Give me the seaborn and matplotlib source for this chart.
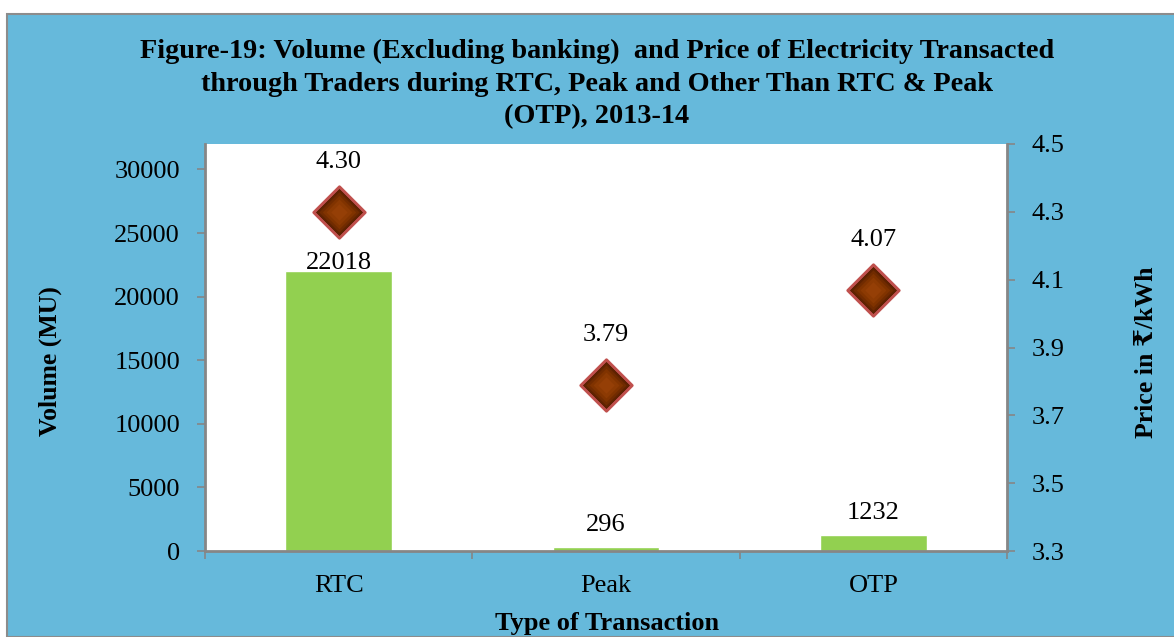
import numpy as np
import pandas as pd
import seaborn as sns
import matplotlib.pyplot as plt
from matplotlib.patches import Rectangle

# data
categories = ['RTC', 'Peak', 'OTP']
volume_mu = [22018, 296, 1232]
price_rs_kwh = [4.30, 3.79, 4.07]

title = ('Figure-19: Volume (Excluding banking)  and Price of Electricity Transacted\n'
         'through Traders during RTC, Peak and Other Than RTC & Peak\n'
         '(OTP), 2013-14')

sns.set_style('white')
plt.rcParams['font.family'] = ['Liberation Serif', 'DejaVu Serif', 'DejaVu Sans']
plt.rcParams['text.color'] = 'black'
plt.rcParams['axes.labelcolor'] = 'black'
plt.rcParams['xtick.labelcolor'] = 'black'
plt.rcParams['ytick.labelcolor'] = 'black'

BLUE = '#66b9db'
GREEN = '#92d050'
GREY = '#868686'
FS = 19

fig = plt.figure(figsize=(11.74, 6.37), dpi=100, facecolor='white')
W, H = 1174, 637

# chart area background with border
fig.patches.append(Rectangle((7 / W, 0), 1.0, 1 - 14 / H, transform=fig.transFigure,
                             facecolor=BLUE, edgecolor='#8c8c8c', linewidth=1.5, zorder=-5))

ax = fig.add_axes([205 / W, (H - 551) / H, (1007 - 205) / W, (551 - 144) / H])
df = pd.DataFrame({'cat': categories, 'vol': volume_mu, 'price': price_rs_kwh})

sns.barplot(data=df, x='cat', y='vol', color=GREEN, width=0.4, saturation=1,
            ax=ax, zorder=2)
ax.set_xlim(-0.5, len(categories) - 0.5)
ax.set_ylim(0, 32000)
ax.set_yticks(np.arange(0, 30001, 5000))
ax.set_facecolor('white')

ax.tick_params(axis='y', labelsize=FS, length=6, width=1.2, color=GREY, pad=12,
               left=True, direction='out')
ax.set_xticks(range(len(categories)))
ax.set_xticklabels(categories)
ax.tick_params(axis='x', which='major', length=0, labelsize=FS, pad=17)
ax.set_xticks(np.arange(-0.5, len(categories), 1.0), minor=True)
ax.tick_params(axis='x', which='minor', length=6, width=1.2, color=GREY, bottom=True)

for side in ['top', 'right']:
    ax.spines[side].set_visible(False)
for side in ['left', 'bottom']:
    ax.spines[side].set_color(GREY)
    ax.spines[side].set_linewidth(2)

ax.set_xlabel('Type of Transaction', fontsize=FS, fontweight='bold', va='baseline')
ax.xaxis.set_label_coords((607 - 205) / 802, -(630 - 551) / 407)
ax.set_ylabel('Volume (MU)', fontsize=18.5, fontweight='bold', va='center')
ax.yaxis.set_label_coords((50 - 205) / 802, (551 - 361) / 407)

bar_offsets = [1.5, 11.5, 11.5]
for i, v in enumerate(volume_mu):
    ax.annotate(f'{v}', (i, v), xytext=(0, bar_offsets[i]), textcoords='offset points',
                ha='center', va='baseline', fontsize=FS)

# secondary axis: price
ax2 = ax.twinx()
xs = np.arange(len(categories))
shade = ['#4a1800', '#5e2200', '#702b00', '#803300', '#8c3a03', '#953f06']
sizes = [680, 550, 420, 290, 175, 70]
sns.scatterplot(x=xs, y=price_rs_kwh, marker='D', s=sizes[0], color=shade[0],
                edgecolor='#c0504d', linewidth=2.2, ax=ax2, zorder=3, legend=False)
for c, s in zip(shade[1:], sizes[1:]):
    sns.scatterplot(x=xs, y=price_rs_kwh, marker='D', s=s, color=c,
                    linewidth=0, ax=ax2, zorder=4, legend=False)
ax2.set_ylim(3.3, 4.5)
ax2.set_yticks(np.arange(3.3, 4.51, 0.2))
ax2.set_yticklabels([f'{t:.1f}' for t in np.arange(3.3, 4.51, 0.2)])
ax2.tick_params(axis='y', labelsize=FS, length=6, width=1.2, color=GREY, pad=12,
                right=True, direction='out')
for side in ['top', 'left', 'bottom']:
    ax2.spines[side].set_visible(False)
ax2.spines['right'].set_color(GREY)
ax2.spines['right'].set_linewidth(2)
ax2.set_ylabel('Price in ₹/kWh', fontsize=18.5, fontweight='bold', va='center')
ax2.yaxis.set_label_coords((1147 - 205) / 802, (551 - 352) / 407)

for i, p in enumerate(price_rs_kwh):
    ax2.annotate(f'{p:.2f}', (i, p), xytext=(0, 36), textcoords='offset points',
                 ha='center', va='center', fontsize=FS)

fig.text(597 / W, 1 - 84 / H, title, ha='center', va='center', fontsize=20.3,
         fontweight='bold', linespacing=1.4)

fig.savefig('out.png', dpi=100, facecolor='white')
